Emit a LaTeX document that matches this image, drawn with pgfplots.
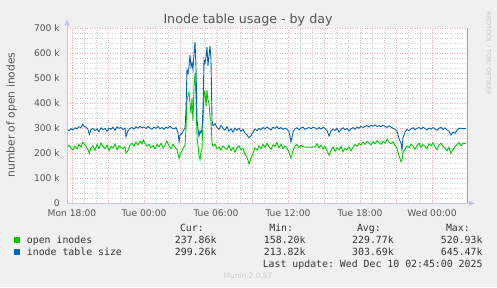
\documentclass[border=0pt]{standalone}
\usepackage{fontspec}
\setmainfont{DejaVu Sans}
\setmonofont{DejaVu Sans Mono}
\usepackage{pgfplots}
\pgfplotsset{compat=1.18}
\usetikzlibrary{arrows.meta}
\definecolor{bg}{HTML}{F0F0F0}
\definecolor{cgreen}{HTML}{00CC00}
\definecolor{cblue}{HTML}{0066B3}
\definecolor{mgrid}{HTML}{F0B0B0}
\definecolor{sgrid}{HTML}{D0D0D0}
\definecolor{axcol}{HTML}{C4C4F0}
\definecolor{txt}{HTML}{555555}
\definecolor{legtxt}{HTML}{333333}
\begin{document}
\begin{tikzpicture}[x=1bp,y=1bp]
\useasboundingbox (0,0) rectangle (497,287);
\fill[bg] (0,0) rectangle (497,287);
\begin{axis}[
  at={(67bp,83.7bp)}, anchor=south west,
  width=400bp, height=175bp, scale only axis,
  xmin=-0.417, xmax=32.917, ymin=0, ymax=700,
  clip=false,
  axis line style={draw=none},
  tick style={draw=none},
  axis background/.style={fill=white},
  xtick={0,3,...,30},
  xticklabels={Mon 18:00,,Tue 00:00,,Tue 06:00,,Tue 12:00,,Tue 18:00,,Wed 00:00},
  minor x tick num=2,
  ytick={0,100,...,700},
  yticklabels={0,100 k,200 k,300 k,400 k,500 k,600 k,700 k},
  minor y tick num=4,
  grid=both,
  major grid style={mgrid, dash pattern=on 1bp off 1.5bp, line width=0.5bp},
  minor grid style={sgrid, dash pattern=on 1bp off 1.5bp, line width=0.5bp},
  ticklabel style={font=\fontsize{9.2}{11}\selectfont, text=txt},
  yticklabel style={anchor=east, inner sep=0pt, xshift=-7bp},
  xticklabel style={anchor=base, inner sep=0pt, yshift=-12.7bp},
]
\addplot[cgreen, line width=0.9bp] coordinates {
(-0.42,225) (-0.25,232) (-0.08,221) (0.08,214) (0.25,228) (0.42,218) (0.58,236) (0.75,225) (0.89,244) (1.0,238)
(1.17,229) (1.33,215) (1.44,200) (1.58,222) (1.75,230) (1.92,212) (2.08,236) (2.25,220) (2.42,241) (2.58,226)
(2.75,218) (2.92,233) (3.08,210) (3.25,228) (3.42,221) (3.58,237) (3.75,214) (3.92,230) (4.08,224) (4.25,218)
(4.42,226) (4.5,200) (4.67,212) (4.83,232) (5.0,240) (5.17,228) (5.33,245) (5.5,234) (5.67,248) (5.83,238)
(5.94,253) (6.08,240) (6.25,228) (6.42,236) (6.58,222) (6.75,231) (6.92,218) (7.08,235) (7.25,226) (7.42,240)
(7.58,221) (7.75,233) (7.9,249) (8.08,230) (8.25,218) (8.42,236) (8.58,224) (8.75,215) (8.92,180) (9.0,195)
(9.17,210) (9.33,226) (9.42,230)
(9.5,300) (9.58,410) (9.67,433) (9.75,445) (9.83,400) (9.92,360) (10.0,420) (10.08,330) (10.17,470) (10.25,521)
(10.33,420) (10.42,260) (10.5,230) (10.58,190) (10.67,175) (10.75,205) (10.83,215) (10.92,330) (11.0,441) (11.08,448)
(11.17,387) (11.25,453) (11.33,413) (11.42,400) (11.5,347) (11.58,330) (11.67,241) (11.75,228)
(11.92,236) (12.08,218) (12.25,225) (12.42,212) (12.58,230) (12.75,220) (12.92,216) (13.08,232) (13.25,210) (13.42,224)
(13.58,205) (13.75,222) (13.92,230) (14.08,214) (14.25,220) (14.42,195) (14.58,185) (14.75,158) (14.92,180) (15.08,200)
(15.25,222) (15.42,212) (15.58,230) (15.75,218) (15.92,236) (16.08,224) (16.25,240) (16.42,226) (16.58,216) (16.75,234)
(16.92,228) (17.08,243) (17.25,222) (17.42,236) (17.58,218) (17.75,230) (17.92,220) (18.08,205) (18.25,180) (18.42,212)
(18.58,228) (18.75,236) (18.92,222) (19.08,232) (19.25,226) (19.42,225) (19.58,224) (19.75,225) (19.92,224) (20.08,226)
(20.25,225) (20.42,238) (20.58,222) (20.75,232) (20.92,216) (21.08,228) (21.25,210) (21.42,193) (21.58,212) (21.75,225)
(21.92,208) (22.08,222) (22.25,214) (22.42,228) (22.58,206) (22.75,220) (22.92,215) (23.08,226) (23.25,210) (23.42,225)
(23.58,235) (23.75,228) (23.92,240) (24.08,233) (24.25,245) (24.42,236) (24.58,248) (24.75,240) (24.92,234) (25.08,246)
(25.25,238) (25.42,250) (25.58,242) (25.75,236) (25.92,248) (26.08,240) (26.25,256) (26.42,244) (26.58,238) (26.75,246)
(26.92,232) (27.08,220) (27.25,190) (27.42,166) (27.5,175) (27.58,200) (27.75,218) (27.92,230) (28.08,222) (28.25,236)
(28.42,228) (28.58,216) (28.75,232) (28.92,240) (29.08,224) (29.25,235) (29.42,228) (29.58,218) (29.75,238) (29.92,230)
(30.08,242) (30.25,226) (30.42,214) (30.58,234) (30.75,240) (30.92,228) (31.08,220) (31.25,210) (31.42,224) (31.58,200)
(31.75,215) (31.92,226) (32.08,236) (32.25,243) (32.42,230) (32.58,240) (32.83,238)
};
\addplot[cblue, line width=0.9bp] coordinates {
(-0.42,297) (-0.25,290) (-0.08,299) (0.08,294) (0.25,302) (0.42,298) (0.58,306) (0.75,303) (0.89,316) (1.0,308)
(1.17,305) (1.33,296) (1.44,276) (1.58,294) (1.75,300) (1.92,291) (2.08,298) (2.25,286) (2.42,302) (2.58,295)
(2.75,299) (2.92,288) (3.08,301) (3.25,296) (3.42,304) (3.58,292) (3.75,306) (3.92,300) (4.08,303) (4.25,295)
(4.42,301) (4.5,267) (4.67,290) (4.83,299) (5.0,303) (5.17,297) (5.33,306) (5.5,300) (5.67,308) (5.83,302)
(6.0,305) (6.17,299) (6.33,307) (6.5,301) (6.67,296) (6.83,304) (7.0,300) (7.17,307) (7.33,298) (7.5,303)
(7.67,296) (7.83,305) (8.0,300) (8.17,308) (8.33,301) (8.5,297) (8.67,303) (8.83,285) (8.92,246) (9.0,272)
(9.17,280) (9.33,295) (9.42,300)
(9.5,375) (9.58,533) (9.67,520) (9.75,548) (9.83,593) (9.92,545) (10.0,560) (10.08,535) (10.17,600) (10.25,645)
(10.33,550) (10.42,330) (10.5,300) (10.58,268) (10.67,290) (10.75,280) (10.83,295) (10.92,380) (11.0,573) (11.08,560)
(11.17,585) (11.25,626) (11.33,550) (11.42,590) (11.5,629) (11.58,580) (11.67,330) (11.75,310)
(11.92,318) (12.08,303) (12.25,296) (12.42,312) (12.58,300) (12.75,293) (12.92,306) (13.08,289) (13.25,298) (13.42,285)
(13.58,301) (13.75,292) (13.92,300) (14.08,288) (14.25,296) (14.42,280) (14.58,274) (14.75,262) (14.92,270) (15.08,285)
(15.25,297) (15.42,290) (15.58,300) (15.75,295) (15.92,303) (16.08,297) (16.25,305) (16.42,299) (16.58,293) (16.75,304)
(16.92,300) (17.08,307) (17.25,298) (17.42,303) (17.58,295) (17.75,301) (17.92,296) (18.08,289) (18.25,246) (18.42,285)
(18.58,298) (18.75,302) (18.92,294) (19.08,301) (19.25,305) (19.42,296) (19.58,300) (19.75,303) (19.92,298) (20.08,305)
(20.25,301) (20.42,296) (20.58,303) (20.75,297) (20.92,304) (21.08,299) (21.25,292) (21.42,269) (21.58,288) (21.75,297)
(21.92,291) (22.08,300) (22.25,285) (22.42,296) (22.58,302) (22.75,294) (22.92,300) (23.08,289) (23.25,298) (23.42,303)
(23.58,296) (23.75,305) (23.92,300) (24.08,308) (24.25,303) (24.42,307) (24.58,311) (24.75,305) (24.92,312) (25.08,309)
(25.25,313) (25.42,307) (25.58,311) (25.75,306) (25.92,312) (26.08,308) (26.25,303) (26.42,310) (26.58,305) (26.75,300)
(26.92,296) (27.08,290) (27.25,258) (27.42,240) (27.5,214) (27.58,262) (27.75,285) (27.92,296) (28.08,290) (28.25,298)
(28.42,302) (28.58,294) (28.75,300) (28.92,303) (29.08,297) (29.25,304) (29.42,299) (29.58,293) (29.75,301) (29.92,297)
(30.08,303) (30.25,298) (30.42,292) (30.58,300) (30.75,304) (30.92,296) (31.08,301) (31.25,293) (31.42,288) (31.58,273)
(31.75,285) (31.92,280) (32.08,293) (32.25,300) (32.42,300) (32.58,299) (32.83,299)
};
\draw[gray!75, line width=0.8bp] (rel axis cs:1,0) -- (rel axis cs:1,1);
\draw[axcol, line width=1bp, -{Triangle[width=5bp,length=6bp]}] (rel axis cs:0,0) -- ([yshift=9bp]rel axis cs:0,1);
\draw[axcol, line width=1bp, -{Triangle[width=5bp,length=6bp]}] (rel axis cs:0,0) -- ([xshift=8bp]rel axis cs:1,0);
\end{axis}
\node[text=txt, font=\fontsize{12.7}{14}\selectfont] at (248,267) {Inode table usage - by day};
\node[rotate=90, text=txt, font=\fontsize{10.8}{12}\selectfont] at (11.7,172) {number of open inodes};
\node[rotate=-90, text={rgb,255:red,200;green,200;blue,200}, font=\fontsize{6.5}{8}\selectfont] at (488.5,233.5) {RRDTOOL / TOBI OETIKER};
\begin{scope}[every node/.style={inner sep=0pt, text=legtxt, font=\ttfamily\fontsize{9.9}{12}\selectfont}]
\node[anchor=base east] at (204,55.7) {Cur:};
\node[anchor=base east] at (293.3,55.7) {Min:};
\node[anchor=base east] at (381,55.7) {Avg:};
\node[anchor=base east] at (470,55.7) {Max:};
\fill[cgreen] (14,44) rectangle (20,50);
\node[anchor=base west] at (26.7,43.4) {open inodes};
\node[anchor=base east] at (216.7,43.4) {237.86k};
\node[anchor=base east] at (305.7,43.4) {158.20k};
\node[anchor=base east] at (394,43.4) {229.77k};
\node[anchor=base east] at (482.7,43.4) {520.93k};
\fill[cblue] (14,32.3) rectangle (20,38.3);
\node[anchor=base west] at (26.7,31.7) {inode table size};
\node[anchor=base east] at (216.7,31.7) {299.26k};
\node[anchor=base east] at (305.7,31.7) {213.82k};
\node[anchor=base east] at (394,31.7) {303.69k};
\node[anchor=base east] at (482.7,31.7) {645.47k};
\node[anchor=base east] at (482.7,20) {Last update: Wed Dec 10 02:45:00 2025};
\end{scope}
\node[anchor=base, inner sep=0pt, text=black!18, font=\fontsize{7.5}{9}\selectfont] at (248,8.5) {Munin 2.0.57};
\end{tikzpicture}
\end{document}
